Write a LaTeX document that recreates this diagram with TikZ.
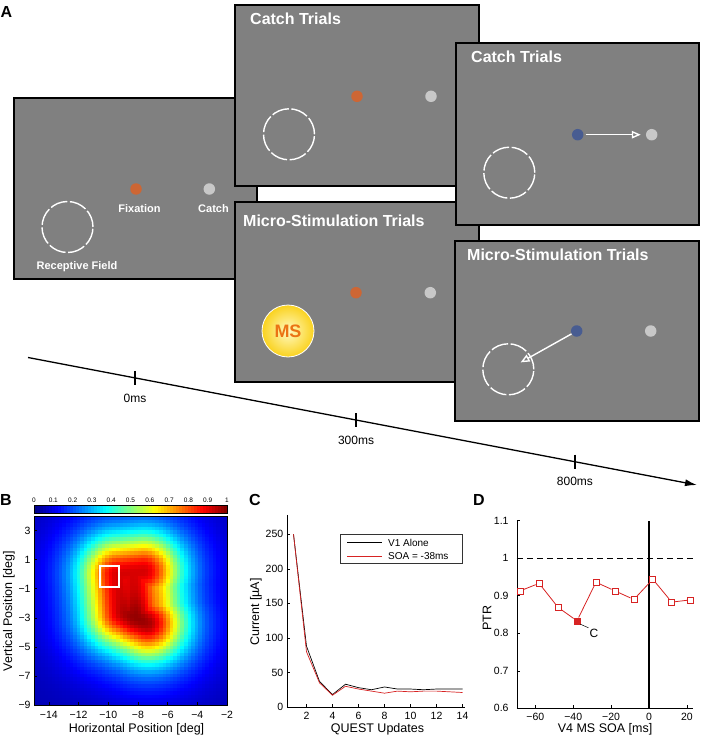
\documentclass[tikz,border=0pt]{standalone}
\usepackage{fontspec}
\setmainfont{Liberation Sans}
\usetikzlibrary{arrows.meta,calc,positioning}

\definecolor{screengray}{RGB}{128,128,128}
\definecolor{fixorange}{RGB}{205,102,52}
\definecolor{catchgray}{RGB}{200,200,200}
\definecolor{saccblue}{RGB}{72,92,145}
\definecolor{plotred}{RGB}{215,35,35}
\definecolor{msorange}{RGB}{235,115,20}
\definecolor{msinner}{RGB}{255,250,195}
\definecolor{msouter}{RGB}{250,210,30}

\tikzset{
  screen/.style={draw=black, line width=1.3pt, fill=screengray},
  scrtitle/.style={anchor=west, inner sep=0pt, text=white, font=\fontsize{16}{18}\selectfont\bfseries},
  scrlabel/.style={inner sep=0pt, text=white, font=\fontsize{11}{13}\selectfont\bfseries},
  dot/.style={circle, inner sep=0pt, minimum size=11.5pt},
  rfield/.style={circle, draw=white, line width=1.4pt, dash pattern=on 17.5pt off 2.6pt, minimum size=51pt, inner sep=0pt},
  msspot/.style={circle, draw=white, line width=0.8pt, minimum size=52pt, inner sep=0pt, inner color=msinner, outer color=msouter, text=msorange, font=\fontsize{18}{20}\selectfont\bfseries},
  sacc/.style={draw=white, line width=1.4pt, -{Triangle[open, length=9pt, width=7.5pt]}},
  panel/.style={font=\fontsize{16}{18}\selectfont\bfseries},
  timelab/.style={font=\fontsize{12}{14}\selectfont},
  ticklab/.style={inner sep=1pt, font=\fontsize{10.5}{12}\selectfont},
  axlab/.style={font=\fontsize{12.5}{15}\selectfont},
  cblab/.style={inner sep=0pt, font=\fontsize{6.5}{7}\selectfont},
  legtext/.style={anchor=west, inner sep=0pt, font=\fontsize{10}{12}\selectfont},
  sqmark/.style={rectangle, draw=plotred, line width=0.7pt, minimum size=6pt, inner sep=0pt},
}

% jet colormap value -> colour hmc
\newcommand{\jetcolor}[1]{%
  \edef\jr{\fpeval{round(255*max(0,min(1,1.5-abs(4*(#1)-3))))}}%
  \edef\jg{\fpeval{round(255*max(0,min(1,1.5-abs(4*(#1)-2))))}}%
  \edef\jb{\fpeval{round(255*max(0,min(1,1.5-abs(4*(#1)-1))))}}%
  \definecolor{hmc}{RGB}{\jr,\jg,\jb}}
% squared distance from (\hx,\hy) to a piece of the RF spine: ax, ay, ux, uy, |u|^2, result
\newcommand{\spined}[6]{%
  \edef\st{\fpeval{max(0,min(1,((\hx-(#1))*(#3)+(\hy-(#2))*(#4))/(#5)))}}%
  \edef#6{\fpeval{(\hx-(#1)-\st*(#3))^2+(\hy-(#2)-\st*(#4))^2}}}

\begin{document}
\begin{tikzpicture}[x=1pt, y=-1pt]
\useasboundingbox (0,0) rectangle (701,738);

% ---------------- Panel A ----------------
\node[panel] (labA) at (6.5,12) {A};

% Screens (back to front)
\draw[screen] (14,98) rectangle (257,279);
\draw[screen] (235,5) rectangle (479,186);
\draw[screen] (235,202) rectangle (479,382);
\draw[screen] (456,43) rectangle (699,225);
\draw[screen] (455,241) rectangle (699,421);

% Screen 0: layout
\node[rfield] (rf0) at (67.5,227) {};
\node[dot, fill=fixorange] (fix0) at (136,189) {};
\node[dot, fill=catchgray] (cat0) at (209.3,189) {};
\node[scrlabel] (fixlab) at (139.5,209) {Fixation};
\node[scrlabel] (catlab) at (213.5,209) {Catch};
\node[scrlabel] (rflab) at (77,267) {Receptive Field};

% Screen 1: catch trials
\node[scrtitle] (ttl1) at (250,19) {Catch Trials};
\node[rfield] (rf1) at (289,134.3) {};
\node[dot, fill=fixorange] (fix1) at (357,96.3) {};
\node[dot, fill=catchgray] (cat1) at (431,96.3) {};

% Screen 2: micro-stimulation trials
\node[scrtitle] (ttl2) at (243,221) {Micro-Stimulation Trials};
\node[msspot] (ms) at (288,331) {MS};
\node[dot, fill=fixorange] (fix2) at (356,292.7) {};
\node[dot, fill=catchgray] (cat2) at (430.3,292.7) {};

% Screen 3: catch trials, saccade to catch
\node[scrtitle] (ttl3) at (471,57) {Catch Trials};
\node[rfield] (rf3) at (509.3,172.7) {};
\node[dot, fill=saccblue] (fix3) at (577.7,134.7) {};
\node[dot, fill=catchgray] (cat3) at (651.7,134.7) {};
\draw[sacc, shorten <=2pt, shorten >=5pt] (fix3) -- (cat3);

% Screen 4: micro-stimulation trials, saccade to RF
\node[scrtitle] (ttl4) at (467,255) {Micro-Stimulation Trials};
\node[rfield] (rf4) at (508.3,369.3) {};
\node[dot, fill=saccblue] (fix4) at (576.7,331) {};
\node[dot, fill=catchgray] (cat4) at (650.7,331) {};
\coordinate (land4) at ($(rf4.center)!0.18!(fix4)$);
\draw[sacc] (fix4) -- (land4);

% Time axis
\coordinate (tstart) at (28,357.5);
\coordinate (tend) at (697,485);
\draw[line width=1.3pt, -{Latex[length=12pt, width=7pt]}] (tstart) -- (tend);
\foreach \p/\lab/\nm in {0.16/0ms/t0, 0.4903/300ms/t300, 0.8176/800ms/t800}{
  \path (tstart) -- (tend) coordinate[pos=\p] (\nm);
  \draw[line width=1.1pt] ($(\nm)+(0,-7)$) -- ($(\nm)+(0,7)$);
  \node[timelab] (\nm lab) at ($(\nm)+(0,20)$) {\lab};
}

% ---------------- Panel B ----------------
\node[panel] (labB) at (6,500) {B};

% colour bar
\foreach \k in {0,...,63}{
  \jetcolor{(\k+0.5)/64}
  \fill[hmc] (34+\k*3.0156,505) rectangle ++(3.3,8);
}
\draw[line width=0.4pt] (34,505) rectangle (227,513);
\foreach \t [count=\c from 0] in {0,0.1,0.2,0.3,0.4,0.5,0.6,0.7,0.8,0.9,1}
  \node[cblab] (cb\c) at (34+\c*19.3,500.5) {\t};

% heat map of the receptive field
\begin{scope}[shift={(256.7pt,-574.2pt)}, x=14.846pt, y=14.54pt]
  \foreach \i in {0,...,53}{
    \edef\hx{\fpeval{-15+(\i+0.5)*13/54}}
    \foreach \j in {0,...,53}{
      \edef\hy{\fpeval{-9+(\j+0.5)*13/54}}
      \spined{-7.6}{0.2}{-1.7}{-0.2}{2.93}\da
      \spined{-9.3}{0}{0.3}{-2.6}{6.85}\db
      \spined{-9}{-2.6}{1.7}{-0.8}{3.53}\dc
      \spined{-7.6}{0}{0.3}{-3.4}{11.65}\de
      \spined{-8.3}{-0.2}{0.1}{-2.8}{7.85}\df
      \edef\dd{\fpeval{min(\da,\db,\dc,\df,\de+1.3)}}
      \edef\hv{\fpeval{0.05+(0.91+0.07*exp(0-((\hx+8)^2+(\hy+3)^2)/2))*(0.55*exp(0-\dd/5)+0.4*exp(0-\dd/16))}}
      \jetcolor{\hv}
      \fill[hmc] (\hx-0.13,\hy-0.13) rectangle (\hx+0.13,\hy+0.13);
    }
  }
  \draw[line width=0.6pt] (-15,-9) rectangle (-2,4);
  \foreach \t/\s in {-14/−14,-12/−12,-10/−10,-8/−8,-6/−6,-4/−4,-2/−2}{
    \draw[line width=0.5pt] (\t,-9) -- (\t,-8.8);
    \node[ticklab, anchor=north] (bx\t) at (\t,-9.35) {\s};
  }
  \foreach \t/\s in {3/3,1/1,-1/−1,-3/−3,-5/−5,-7/−7,-9/−9}{
    \draw[line width=0.5pt] (-15,\t) -- (-14.8,\t);
    \node[ticklab, anchor=east] (by\t) at (-15.15,\t) {\s};
  }
  \draw[white, line width=2pt] (-10.55,-0.85) rectangle (-9.3,0.55);
\end{scope}
\node[axlab, rotate=90] (bylab) at (9,611) {Vertical Position [deg]};
\node[axlab] (bxlab) at (136.5,729) {Horizontal Position [deg]};

% ---------------- Panel C ----------------
\node[panel] (labC) at (255,500) {C};
\begin{scope}[shift={(280.5pt,-707pt)}, x=13pt, y=0.691pt]
  \draw[line width=0.6pt] (0.5,278) -- (0.5,0) -- (14.2,0);
  \foreach \t in {0,50,...,250}{
    \draw[line width=0.5pt] (0.5,\t) -- (0.73,\t);
    \node[ticklab, anchor=east] (cy\t) at (0.3,\t) {\t};
  }
  \foreach \t in {2,4,...,14}{
    \draw[line width=0.5pt] (\t,0) -- (\t,4.3);
    \node[ticklab, anchor=north] (cx\t) at (\t,-5.5) {\t};
  }
  % V1 alone
  \draw[black, line width=0.7pt] plot coordinates {(1,250) (2,88) (3,37) (4,18) (5,33) (6,28) (7,25) (8,29) (9,26) (10,26) (11,25) (12,26) (13,26) (14,26)};
  % SOA = -38ms
  \draw[plotred, line width=0.7pt] plot coordinates {(1,250) (2,80) (3,35) (4,17) (5,30) (6,26) (7,23) (8,20) (9,23) (10,22) (11,23) (12,23) (13,22) (14,21)};
\end{scope}
\node[axlab, rotate=90] (cylab) at (256,612) {Current [µA]};
\node[axlab] (cxlab) at (377.5,729) {QUEST Updates};
% legend
\draw[line width=0.5pt, draw=black!80] (340,534) rectangle (462.5,563.5);
\draw[black, line width=0.7pt] (347,542.5) -- (382,542.5);
\draw[plotred, line width=0.7pt] (347,556) -- (382,556);
\node[legtext] (legv1) at (388,542.5) {V1 Alone};
\node[legtext] (legsoa) at (388,556) {SOA = -38ms};

% ---------------- Panel D ----------------
\node[panel] (labD) at (479,500) {D};
\begin{scope}[shift={(649pt,-933.4pt)}, x=1.895pt, y=375.2pt]
  \draw[line width=0.6pt] (-69.7,1.1) -- (-69.7,0.6) -- (23.2,0.6);
  \foreach \t in {0.6,0.7,0.8,0.9,1,1.1}{
    \draw[line width=0.5pt] (-69.7,\t) -- (-68.1,\t);
    \node[ticklab, anchor=east] (dy\t) at (-73.5,\t) {\t};
  }
  \foreach \t/\s in {-60/−60,-40/−40,-20/−20,0/0,20/20}{
    \draw[line width=0.5pt] (\t,0.6) -- (\t,0.608);
    \node[ticklab, anchor=north] (dx\t) at (\t,0.589) {\s};
  }
  \draw[line width=1pt, dash pattern=on 6pt off 4pt] (-69.7,1) -- (23.2,1);
  \draw[line width=1.2pt] (0,0.6) -- (0,1.1);
  % PTR for each V4 SOA
  \foreach \x/\y [count=\k] in {-68/0.913, -58/0.933, -48/0.869, -38/0.833, -28/0.936, -18/0.913, -8/0.890, 2/0.944, 12/0.883, 22/0.889}
    \node[sqmark] (pt\k) at (\x,\y) {};
  \fill[plotred] (pt4.south west) rectangle (pt4.north east);
  \foreach \a/\b in {1/2,2/3,3/4,4/5,5/6,6/7,7/8,8/9,9/10}
    \draw[plotred, line width=0.8pt] (pt\a) -- (pt\b);
  \node[inner sep=1pt, font=\fontsize{12}{14}\selectfont] (clab) at (-29,0.8) {C};
  \draw[line width=0.5pt] (pt4.south east) -- (clab.north west);
\end{scope}
\node[axlab, rotate=90] (dylab) at (487,618) {PTR};
\node[axlab] (dxlab) at (605,729) {V4 MS SOA [ms]};

\end{tikzpicture}
\end{document}
